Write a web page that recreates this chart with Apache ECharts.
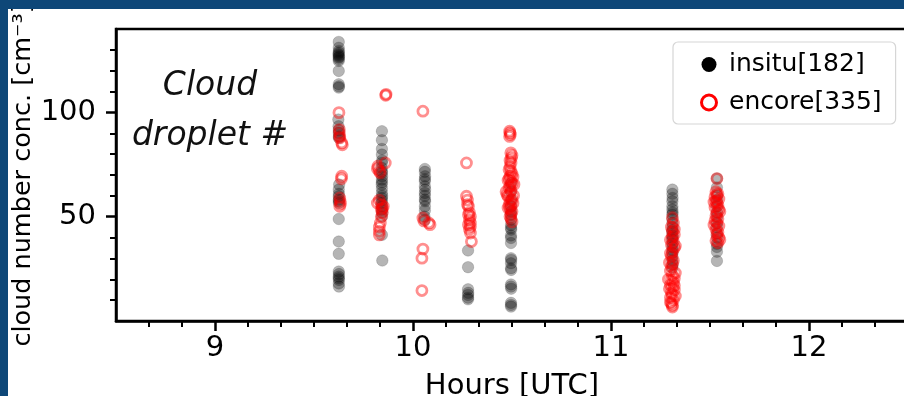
<!DOCTYPE html>
<html>
<head>
<meta charset="utf-8">
<script src="https://cdn.jsdelivr.net/npm/echarts@6/dist/echarts.min.js"></script>
<style>
  html, body { margin: 0; padding: 0; width: 904px; height: 396px; overflow: hidden; background: #0e4778; }
  #chart { position: absolute; left: 8px; top: 9px; width: 896px; height: 387px; background: #fff; overflow: hidden; }
</style>
</head>
<body>
<div id="chart"></div>
<script>
// In-situ cloud droplet number concentration [hour UTC, cm^-3]
const insitu = [
  // leg near 9.62 h
  [9.625,133.8],[9.625,131.0],[9.626,129.5],[9.625,128.7],[9.624,128.0],[9.625,127.4],[9.626,126.8],[9.625,126.3],
  [9.625,125.5],[9.625,124.7],[9.625,119.9],[9.625,113.5],[9.626,112.5],[9.625,111.9],[9.623,96.6],[9.624,93.4],
  [9.625,91.5],[9.625,90.2],[9.626,88.5],[9.626,87.8],[9.627,65.4],[9.625,63.0],[9.626,61.0],[9.625,59.8],
  [9.626,58.2],[9.625,57.5],[9.626,56.6],[9.625,48.9],[9.625,38.1],[9.625,32.2],[9.625,23.7],[9.626,22.5],
  [9.625,21.3],[9.625,20.5],[9.626,19.7],[9.625,18.0],[9.626,16.5],
  // leg near 9.84 h
  [9.843,91.0],[9.843,86.7],[9.843,82.5],[9.843,79.8],[9.844,77.0],[9.843,75.8],[9.842,73.5],[9.843,71.8],
  [9.843,71.0],[9.844,69.4],[9.843,67.8],[9.843,66.5],[9.842,65.4],[9.843,63.5],[9.843,61.4],[9.844,60.0],
  [9.843,59.0],[9.843,57.8],[9.842,56.6],[9.843,55.0],[9.843,53.4],[9.844,52.0],[9.843,50.1],[9.843,41.3],
  [9.845,29.0],
  // leg near 10.06 h
  [10.06,72.9],[10.06,71.5],[10.061,69.4],[10.06,68.0],[10.06,67.0],[10.06,64.6],[10.061,63.0],[10.06,61.4],
  [10.06,60.0],[10.06,58.2],[10.061,57.4],[10.06,55.0],[10.06,53.0],[10.058,50.1],[10.06,48.5],
  // leg near 10.28 h
  [10.278,33.8],[10.278,25.8],[10.278,15.2],[10.279,13.5],[10.278,12.5],[10.278,11.2],[10.278,10.4],
  // leg near 10.5 h
  [10.495,66.0],[10.495,62.0],[10.496,58.0],[10.495,55.0],[10.495,52.5],[10.495,51.0],[10.496,48.6],[10.495,46.0],
  [10.495,44.6],[10.496,43.8],[10.495,41.0],[10.495,39.8],[10.495,37.4],[10.495,30.1],[10.496,29.3],[10.495,27.7],
  [10.495,25.3],[10.496,24.5],[10.495,17.5],[10.495,16.5],[10.496,15.5],[10.495,8.7],[10.495,7.7],[10.495,6.9],
  // leg near 11.31 h
  [11.31,63.0],[11.31,61.0],[11.311,59.0],[11.31,57.4],[11.31,55.0],[11.31,53.4],[11.311,52.0],[11.31,51.0],
  [11.31,49.0],[11.31,47.0],[11.311,45.0],[11.31,43.5],[11.31,42.8],[11.31,41.0],[11.311,40.0],[11.31,38.9],
  [11.31,37.0],[11.31,35.5],[11.311,34.0],[11.31,32.7],[11.31,31.0],[11.31,29.0],[11.311,27.0],[11.31,25.5],
  // leg near 11.53 h
  [11.535,68.3],[11.535,64.0],[11.536,60.0],[11.535,58.0],[11.535,55.0],[11.535,52.0],[11.536,50.0],[11.535,47.0],
  [11.535,45.0],[11.535,42.0],[11.536,40.0],[11.535,37.0],[11.535,35.5],[11.535,33.2],[11.535,28.8]
];

// ENCORE cloud droplet number concentration [hour UTC, cm^-3]
const encore = [
  // leg near 9.63 h
  [9.626,99.9],[9.628,91.8],[9.628,90.2],[9.63,88.5],[9.63,87.8],[9.64,85.4],[9.643,84.5],[9.64,69.4],
  [9.638,68.2],[9.63,59.0],[9.632,57.4],[9.63,55.0],[9.634,56.2],
  // leg near 9.84 h
  [9.864,108.7],[9.862,108.2],[9.86,75.8],[9.823,74.2],[9.82,73.0],[9.83,71.8],[9.835,71.0],[9.83,58.0],
  [9.82,56.6],[9.84,55.8],[9.85,55.0],[9.845,54.0],[9.84,53.4],[9.845,52.0],[9.84,50.0],[9.835,47.0],
  [9.83,45.0],[9.83,43.0],[9.83,41.3],
  // leg near 10.06 h
  [10.05,100.6],[10.05,49.4],[10.055,48.0],[10.08,47.0],[10.086,46.2],[10.05,34.5],[10.045,30.1],[10.045,14.6],
  // leg near 10.28 h
  [10.27,75.8],[10.27,59.8],[10.275,58.0],[10.275,55.8],[10.28,55.0],[10.285,52.0],[10.28,51.0],[10.29,50.1],
  [10.285,48.6],[10.29,47.0],[10.28,46.2],[10.29,45.3],[10.285,44.0],[10.29,42.2],[10.295,38.1],
  // leg near 10.49 h
  [10.488,91.0],[10.49,90.2],[10.492,89.4],[10.488,88.5],[10.494,80.6],[10.5,79.5],[10.497,78.2],[10.49,77.0],
  [10.495,75.8],[10.49,74.0],[10.485,72.5],[10.495,71.8],[10.5,70.5],[10.49,69.4],[10.485,68.2],[10.495,67.0],
  [10.5,66.0],[10.49,64.8],[10.485,63.8],[10.495,62.5],[10.49,61.0],[10.48,59.8],[10.5,58.2],[10.49,57.0],
  [10.485,55.5],[10.495,55.0],[10.49,53.8],[10.5,52.5],[10.495,51.2],[10.49,50.1],[10.495,49.0],[10.5,47.5],
  [10.505,69.0],[10.48,67.5],[10.51,65.5],[10.475,60.5],[10.505,56.5],[10.48,54.2],[10.508,60.2],[10.47,62.0],
  // leg near 11.31 h
  [11.31,49.5],[11.315,47.0],[11.305,45.0],[11.31,43.0],[11.32,41.5],[11.31,40.4],[11.3,39.0],[11.315,38.0],
  [11.305,36.5],[11.32,35.0],[11.31,33.2],[11.305,31.0],[11.315,29.0],[11.31,27.5],[11.305,26.0],[11.3,24.0],
  [11.31,22.0],[11.32,20.5],[11.305,19.7],[11.315,18.5],[11.3,17.3],[11.31,16.0],[11.32,14.9],[11.305,13.5],
  [11.31,12.5],[11.3,11.3],[11.315,10.1],[11.305,8.5],[11.31,7.5],[11.31,6.7],[11.29,20.0],[11.325,23.0],
  [11.295,15.5],[11.325,12.0],[11.3,9.0],[11.32,44.0],[11.325,36.0],[11.295,28.0],[11.32,17.0],[11.3,32.5],
  // leg near 11.54 h
  [11.535,68.3],[11.53,62.0],[11.54,61.0],[11.535,60.6],[11.525,59.5],[11.545,58.5],[11.53,57.5],[11.535,56.7],
  [11.54,55.5],[11.525,54.5],[11.545,53.5],[11.535,51.9],[11.53,50.5],[11.54,49.0],[11.525,48.0],[11.535,47.0],
  [11.545,45.5],[11.53,44.0],[11.54,42.5],[11.535,41.3],[11.545,40.0],[11.53,38.5],[11.54,37.5],[11.52,57.0],
  [11.55,52.5],[11.52,46.0],[11.55,39.0]
];

const seriesNames = ['insitu[182]', 'encore[335]'];
const hourTicks = [9, 10, 11, 12];
const concTicks = [50, 100];
const hourRange = [8.5, 12.5];
const concRange = [0, 140];

// 10-minute minor ticks on the time axis, 10 cm^-3 minor ticks on the concentration axis
const hourMinorTicks = [];
for (let k = 1; k < 24; k++) {
  const v = hourRange[0] + k / 6;
  if (Math.abs(v - Math.round(v)) > 1e-6) hourMinorTicks.push(v);
}
const concMinorTicks = [];
for (let v = 10; v < concRange[1]; v += 10) {
  if (v % 50 !== 0) concMinorTicks.push(v);
}

const FONT = '"DejaVu Sans", "Noto Sans", sans-serif';
const INK = '#000';

const chart = echarts.init(document.getElementById('chart'), null, { renderer: 'canvas' });

chart.setOption({
  animation: false,
  backgroundColor: '#fff',
  grid: {
    left: 108, top: 20, width: 792, height: 292,
    containLabel: false, outerBoundsMode: 'none',
    show: true, borderColor: INK, borderWidth: 2.5, backgroundColor: '#fff'
  },
  xAxis: [
    {
      type: 'value', min: hourRange[0], max: hourRange[1], position: 'bottom',
      axisLine: { show: true, lineStyle: { color: INK, width: 2.5 } },
      axisTick: { show: true, customValues: hourTicks, length: 10, lineStyle: { color: INK, width: 2.5 } },
      axisLabel: { customValues: hourTicks, margin: 13, fontSize: 29, color: INK, fontFamily: FONT,
                   formatter: v => String(v) },
      splitLine: { show: false },
      name: 'Hours [UTC]', nameLocation: 'middle', nameGap: 51, nameMoveOverlap: false,
      nameTextStyle: { fontSize: 29, color: INK, fontFamily: FONT }
    },
    {
      type: 'value', min: hourRange[0], max: hourRange[1], position: 'bottom',
      axisLine: { show: false },
      axisTick: { show: true, customValues: hourMinorTicks, length: 6, lineStyle: { color: INK, width: 2 } },
      axisLabel: { show: false },
      splitLine: { show: false }
    }
  ],
  yAxis: [
    {
      type: 'value', min: concRange[0], max: concRange[1], position: 'left',
      axisLine: { show: true, lineStyle: { color: INK, width: 2.5 } },
      axisTick: { show: true, customValues: concTicks, length: 10, lineStyle: { color: INK, width: 2.5 } },
      axisLabel: { customValues: concTicks, margin: 20, fontSize: 29, color: INK, fontFamily: FONT,
                   formatter: v => String(v) },
      splitLine: { show: false },
      name: 'cloud number conc. [cm\u207B\u00B3]', nameLocation: 'middle', nameGap: 80, nameMoveOverlap: false,
      nameTextStyle: { fontSize: 25.5, color: INK, fontFamily: FONT }
    },
    {
      type: 'value', min: concRange[0], max: concRange[1], position: 'left',
      axisLine: { show: false },
      axisTick: { show: true, customValues: concMinorTicks, length: 6, lineStyle: { color: INK, width: 2 } },
      axisLabel: { show: false },
      splitLine: { show: false }
    }
  ],
  legend: {
    left: 665, top: 33, orient: 'vertical',
    padding: [10, 14, 9, 27], itemGap: 13, itemWidth: 30, itemHeight: 15,
    borderColor: '#d6d6d6', borderWidth: 1.2, borderRadius: 5, backgroundColor: 'rgba(255,255,255,0.85)',
    selectedMode: false,
    textStyle: { fontSize: 25, color: INK, fontFamily: FONT, lineHeight: 24 },
    data: [
      { name: seriesNames[0], icon: 'circle', itemStyle: { color: '#000', borderWidth: 0, opacity: 1 } },
      { name: seriesNames[1], icon: 'circle', itemStyle: { color: '#fff', borderColor: '#ff0000', borderWidth: 3, opacity: 1 } }
    ]
  },
  graphic: [
    {
      type: 'text', x: 202, y: 102, silent: true,
      style: {
        text: 'Cloud\ndroplet #', fill: '#111',
        fontSize: 33, fontStyle: 'italic', fontFamily: FONT,
        align: 'center', verticalAlign: 'middle', lineHeight: 50
      }
    }
  ],
  series: [
    {
      type: 'scatter', name: seriesNames[0], xAxisIndex: 0, yAxisIndex: 0,
      data: insitu, symbol: 'circle', symbolSize: 11.5, silent: true, z: 2,
      itemStyle: { color: 'rgba(0,0,0,0.36)', borderColor: 'rgba(0,0,0,0.18)', borderWidth: 1 }
    },
    {
      type: 'scatter', name: seriesNames[1], xAxisIndex: 0, yAxisIndex: 0,
      data: encore, symbol: 'circle', symbolSize: 10, silent: true, z: 3,
      itemStyle: { color: 'rgba(255,0,0,0)', borderColor: 'rgba(255,0,0,0.55)', borderWidth: 2.8 }
    }
  ]
});
</script>
</body>
</html>
